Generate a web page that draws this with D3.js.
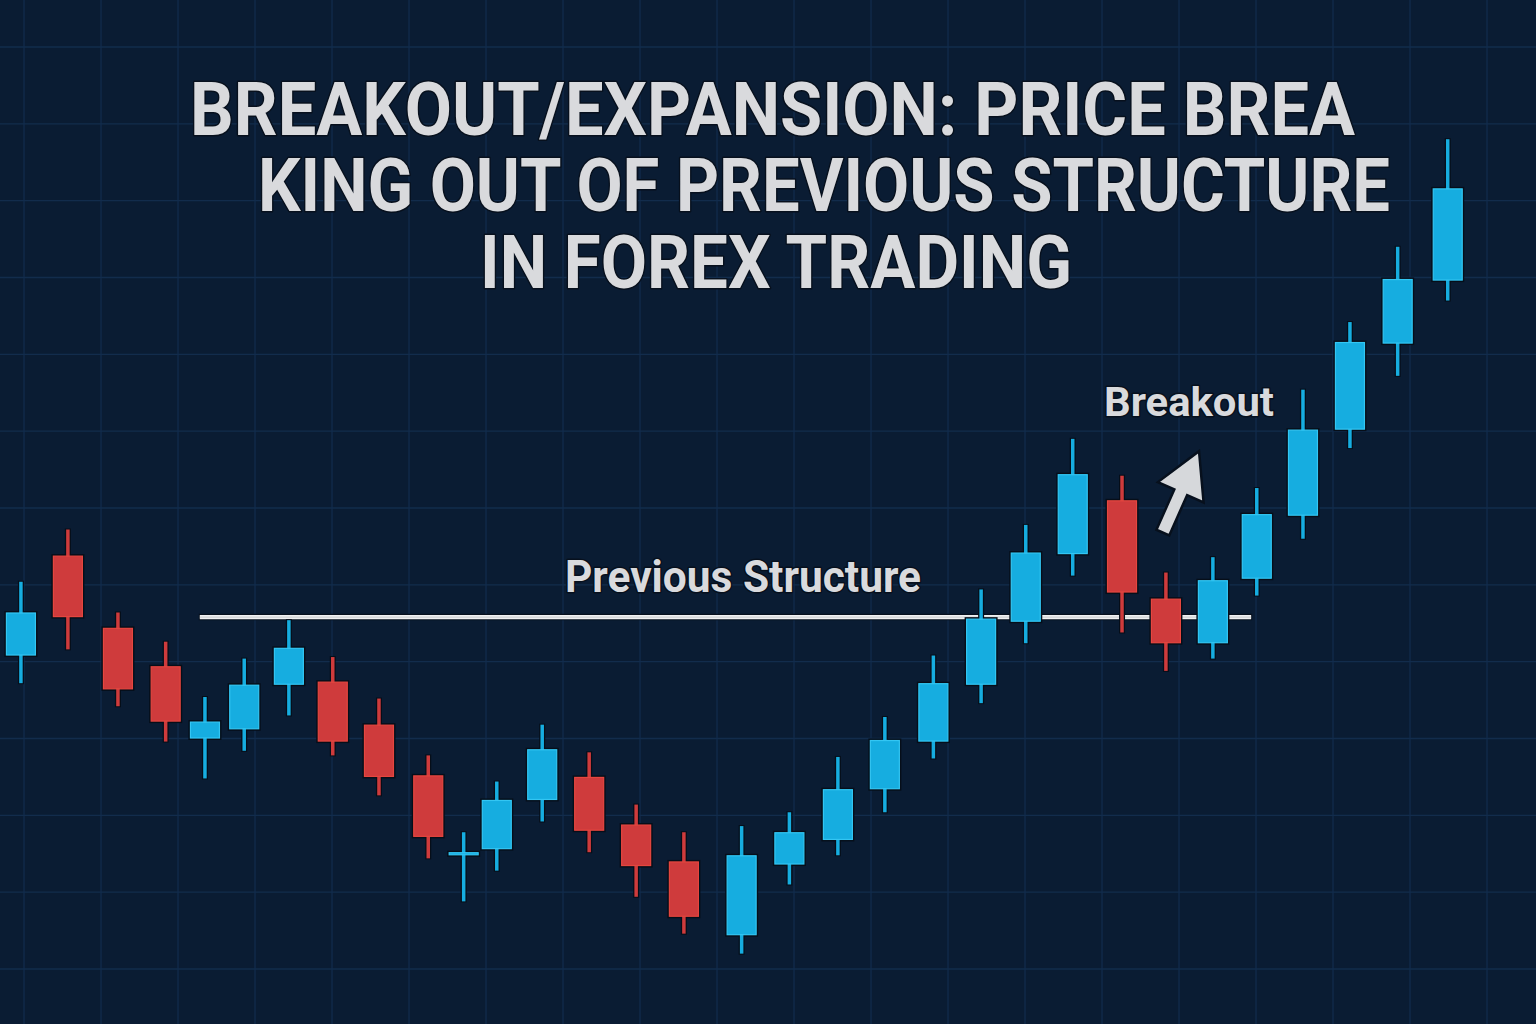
<!DOCTYPE html>
<meta charset="utf-8">
<head>
  <title>Breakout / Expansion candlesticks</title>
</head>

<style>
body{
  margin: 0;
  background-color: #0a1c33;
}
svg{
  display: block;
  background-color: #0a1c33;
}
.grid line{
  stroke: #122c4c;
  stroke-width: 1.3;
}
.label{
  font-family: Roboto, "Noto Sans", sans-serif;
  font-weight: 700;
  fill: #d9dadd;
  stroke: #07101d;
  stroke-width: 3;
  paint-order: stroke;
  stroke-linejoin: round;
}
</style>

<body>
<svg class="chart" width="1536" height="1024"></svg>

<script src="https://cdnjs.cloudflare.com/ajax/libs/d3/7.8.5/d3.min.js"></script>
<script>

// time of each candle (grid units) and OHLC prices
var times = [-0.04, 0.57, 1.22, 1.84, 2.35, 2.86, 3.44, 4.01, 4.61, 5.25, 5.71, 6.14, 6.73, 7.34, 7.95, 8.57,
  9.32, 9.94, 10.57, 11.18, 11.81, 12.43, 13.01, 13.62, 14.26, 14.83, 15.44, 16.01, 16.61, 17.22, 17.84, 18.49];
var opens  = [1.1004, 1.1069, 1.1022, 1.0997, 1.0950, 1.0956, 1.0985, 1.0987, 1.0959, 1.0926, 1.0874, 1.0878,
  1.0910, 1.0925, 1.0894, 1.0870, 1.0822, 1.0868, 1.0884, 1.0917, 1.0948, 1.0985, 1.1026, 1.1070, 1.1105, 1.1041,
  1.1012, 1.1054, 1.1095, 1.1151, 1.1207, 1.1248];
var highs  = [1.1052, 1.1086, 1.1032, 1.1013, 1.0977, 1.1002, 1.1027, 1.1003, 1.0976, 1.0939, 1.0889, 1.0922,
  1.0959, 1.0941, 1.0907, 1.0889, 1.0893, 1.0902, 1.0938, 1.0964, 1.1004, 1.1047, 1.1089, 1.1145, 1.1121, 1.1058,
  1.1068, 1.1113, 1.1177, 1.1221, 1.1270, 1.1340];
var lows   = [1.0986, 1.1008, 1.0971, 1.0948, 1.0924, 1.0942, 1.0965, 1.0939, 1.0913, 1.0872, 1.0844, 1.0864,
  1.0896, 1.0876, 1.0847, 1.0823, 1.0810, 1.0855, 1.0874, 1.0902, 1.0937, 1.0973, 1.1012, 1.1056, 1.1019, 1.0994,
  1.1002, 1.1043, 1.1080, 1.1139, 1.1186, 1.1235];
var closes = [1.1032, 1.1029, 1.0982, 1.0961, 1.0961, 1.0985, 1.1009, 1.0948, 1.0925, 1.0886, 1.0876, 1.0910,
  1.0943, 1.0890, 1.0867, 1.0834, 1.0874, 1.0889, 1.0917, 1.0949, 1.0986, 1.1028, 1.1071, 1.1122, 1.1045, 1.1012,
  1.1053, 1.1096, 1.1151, 1.1208, 1.1249, 1.1308];

// previous structure level
var structureLevel = 1.1029;
var structureFrom = 2.27, structureTo = 15.95;

// breakout arrow (tail -> tip)
var arrowTail = [14.79, 1.1084];
var arrowTip  = [15.26, 1.1137];

var titleLines = ["BREAKOUT/EXPANSION: PRICE BREA", "KING OUT OF PREVIOUS STRUCTURE", "IN FOREX TRADING"];

var W = 1536, H = 1024;
var svg = d3.select('.chart');

var x = d3.scaleLinear().domain([0, 1]).range([24, 101]);
var y = d3.scaleLinear().domain([1.08, 1.14]).range([969, 47]);

var candles = times.map(function(t, i){
  return {t: t, o: opens[i], h: highs[i], l: lows[i], c: closes[i]};
});

// grid
var grid = svg.append('g').attr('class', 'grid');
grid.selectAll('line.v')
  .data(d3.range(-1, 20))
  .enter().append('line')
  .attr('x1', function(d){ return x(d); })
  .attr('x2', function(d){ return x(d); })
  .attr('y1', 0).attr('y2', H);
grid.selectAll('line.h')
  .data(d3.range(1.075, 1.1451, 0.005))
  .enter().append('line')
  .attr('x1', 0).attr('x2', W)
  .attr('y1', function(d){ return y(d); })
  .attr('y2', function(d){ return y(d); });

// structure line
svg.append('line')
  .attr('x1', x(structureFrom)).attr('x2', x(structureTo))
  .attr('y1', y(structureLevel)).attr('y2', y(structureLevel))
  .attr('stroke', '#07101d').attr('stroke-width', 6.5);
svg.append('line')
  .attr('x1', x(structureFrom) + 1).attr('x2', x(structureTo) - 1)
  .attr('y1', y(structureLevel)).attr('y2', y(structureLevel))
  .attr('stroke', '#f0f1f2').attr('stroke-width', 4.2);
svg.append('line')
  .attr('x1', x(structureFrom) + 1).attr('x2', x(structureTo) - 1)
  .attr('y1', y(structureLevel)).attr('y2', y(structureLevel))
  .attr('stroke', '#b4b8bd').attr('stroke-width', 0.7);

// candles
var bw = 30;
function col(d){ return d.c >= d.o ? '#16ade0' : '#cf3b3c'; }
function edge(d){ return d.c >= d.o ? '#33c6f3' : '#e5463f'; }

var cg = svg.append('g');
// dark outlines
cg.selectAll('rect.wo').data(candles).enter().append('rect')
  .attr('x', function(d){ return x(d.t) - 3; })
  .attr('y', function(d){ return y(d.h) - 1; })
  .attr('width', 6)
  .attr('height', function(d){ return y(d.l) - y(d.h) + 2; })
  .attr('fill', '#060e19');
cg.selectAll('rect.bo').data(candles).enter().append('rect')
  .attr('x', function(d){ return x(d.t) - bw / 2 - 1.5; })
  .attr('y', function(d){ return y(Math.max(d.o, d.c)) - 1.5; })
  .attr('width', bw + 3)
  .attr('height', function(d){ return Math.max(3, y(Math.min(d.o, d.c)) - y(Math.max(d.o, d.c))) + 3; })
  .attr('fill', '#060e19');
// wicks
cg.selectAll('rect.w').data(candles).enter().append('rect')
  .attr('x', function(d){ return x(d.t) - 1.75; })
  .attr('y', function(d){ return y(d.h); })
  .attr('width', 3.5)
  .attr('height', function(d){ return y(d.l) - y(d.h); })
  .attr('fill', col);
// bodies
cg.selectAll('rect.b').data(candles).enter().append('rect')
  .attr('x', function(d){ return x(d.t) - bw / 2 + 0.5; })
  .attr('y', function(d){ return y(Math.max(d.o, d.c)) + 0.5; })
  .attr('width', bw - 1)
  .attr('height', function(d){ return Math.max(2, y(Math.min(d.o, d.c)) - y(Math.max(d.o, d.c)) - 1); })
  .attr('fill', col)
  .attr('stroke', edge)
  .attr('stroke-width', 1.2);

// arrow
var ax0 = x(arrowTail[0]), ay0 = y(arrowTail[1]);
var ax1 = x(arrowTip[0]), ay1 = y(arrowTip[1]);
var len = Math.hypot(ax1 - ax0, ay1 - ay0);
var ux = (ax1 - ax0) / len, uy = (ay1 - ay0) / len;
var px = -uy, py = ux;
var sw = 7, hw = 25, hl = 45;
var bx = ax1 - ux * hl, by = ay1 - uy * hl;
var arrowPts = [
  [ax0 + px * sw, ay0 + py * sw],
  [bx + px * sw, by + py * sw],
  [bx + px * hw, by + py * hw],
  [ax1, ay1],
  [bx - px * hw, by - py * hw],
  [bx - px * sw, by - py * sw],
  [ax0 - px * sw, ay0 - py * sw]
];
svg.append('path')
  .attr('d', d3.line()(arrowPts) + 'Z')
  .attr('fill', '#d6d8db')
  .attr('stroke', '#07101d')
  .attr('stroke-width', 2.5)
  .attr('stroke-linejoin', 'miter');

// labels
svg.append('text').attr('class', 'label')
  .attr('x', 565).attr('y', 592)
  .attr('font-size', 44)
  .attr('textLength', 356).attr('lengthAdjust', 'spacingAndGlyphs')
  .text('Previous Structure');

svg.append('text').attr('class', 'label')
  .attr('x', 1104).attr('y', 416)
  .attr('font-size', 40)
  .attr('textLength', 170).attr('lengthAdjust', 'spacingAndGlyphs')
  .text('Breakout');

var titleX = [190, 258, 480], titleLen = [1165, 1132, 592], titleY = [135, 211, 288];
svg.selectAll('text.title')
  .data(titleLines)
  .enter().append('text')
  .attr('class', 'label title')
  .attr('x', function(d, i){ return titleX[i]; })
  .attr('y', function(d, i){ return titleY[i]; })
  .attr('font-size', 74)
  .attr('stroke-width', 4)
  .attr('textLength', function(d, i){ return titleLen[i]; })
  .attr('lengthAdjust', 'spacingAndGlyphs')
  .text(function(d){ return d; });

</script>
</body>
</html>
